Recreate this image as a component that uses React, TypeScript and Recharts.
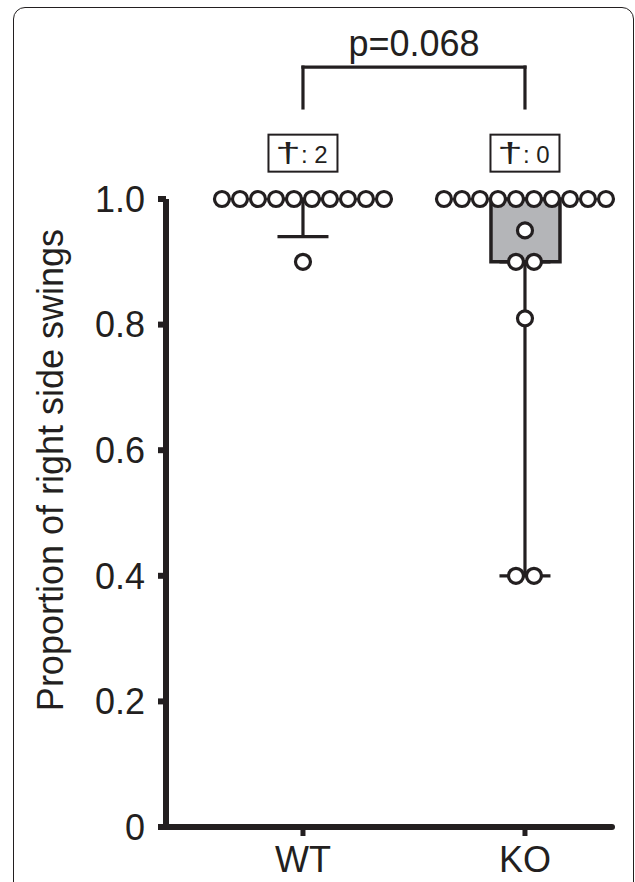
import React from "react";
import {
  ComposedChart,
  XAxis,
  YAxis,
  Bar,
  Scatter,
  ErrorBar,
  ReferenceLine,
  ReferenceDot,
} from "recharts";

const INK = "#231f20";
const BOX_GREY = "#b4b5b8";
const FONT = "'Liberation Sans', Arial, Helvetica, sans-serif";

// groups on the x axis (numeric positions so the swarm can sit on them)
const groups = ["WT", "KO"];
const groupX = [1, 2];

// individual animals: proportion of right side swings
const wtValues = [1, 1, 1, 1, 1, 1, 1, 1, 1, 1, 0.9];
const koValues = [1, 1, 1, 1, 1, 1, 1, 1, 1, 1, 0.95, 0.9, 0.9, 0.81, 0.4, 0.4];

// box + whisker summary per group
const boxQ1 = [1.0, 0.9];
const boxQ3 = [1.0, 1.0];
const whiskerLow = [0.94, 0.4];

// deaths per group (cross tags) and the comparison
const deaths = [2, 0];
const pValue = "p=0.068";
const bracketY = 1.21;
const bracketLegY = 1.145;
const tagY = 1.073;

const yTicks = [0, 0.2, 0.4, 0.6, 0.8, 1.0];

const STEP = 18;

function swarm(values: number[], x: number) {
  const counts = new Map<number, number>();
  values.forEach((v) => counts.set(v, (counts.get(v) || 0) + 1));
  return [...counts].map(([y, n]) => ({ x, y, n }));
}

const swarmData = [...swarm(wtValues, groupX[0]), ...swarm(koValues, groupX[1])];

const boxData = groups.map((g, i) => ({
  name: g,
  x: groupX[i],
  box: [boxQ1[i], boxQ3[i]],
}));

const whiskerData = groups.map((g, i) => ({
  name: g,
  x: groupX[i],
  y: boxQ1[i],
  err: [boxQ1[i] - whiskerLow[i], 0],
}));

function SwarmRow(props: any) {
  const { cx, cy } = props;
  const n = props.payload?.n ?? props.n ?? 1;
  return (
    <g>
      {Array.from({ length: n }, (_, i) => (
        <circle
          key={i}
          cx={cx + (i - (n - 1) / 2) * STEP}
          cy={cy}
          r={7.5}
          fill="#fff"
          stroke={INK}
          strokeWidth={3.2}
        />
      ))}
    </g>
  );
}

function DeathTag({ cx, cy, n }: { cx: number; cy: number; n: number }) {
  return (
    <g>
      <rect x={cx - 34.5} y={cy - 18.5} width={69} height={37} fill="#fff" stroke={INK} strokeWidth={2} />
      <text
        transform={`translate(${cx - 15}, ${cy + 9}) scale(1.7, 1)`}
        textAnchor="middle"
        fontSize={27}
        fontFamily={FONT}
        fill={INK}
      >
        †
      </text>
      <text x={cx - 2} y={cy + 9.5} textAnchor="start" fontSize={24} fontFamily={FONT} fill={INK}>
        {`: ${n}`}
      </text>
    </g>
  );
}

const fmtY = (v: number) => (v === 0 ? "0" : v.toFixed(1));

export default function App() {
  return (
    <div style={{ position: "absolute", left: 0, top: 0, width: 635, height: 882, overflow: "hidden", background: "#fff" }}>
      <div
        style={{
          position: "absolute",
          left: 13,
          top: 7,
          width: 619,
          height: 920,
          border: `1.5px solid ${INK}`,
          borderRadius: 12,
        }}
      />
      <div style={{ position: "absolute", left: 0, top: 0 }}>
        <ComposedChart width={635} height={882} data={boxData} margin={{ top: 199, right: 23, bottom: 0, left: 0 }}>
          <XAxis
            type="number"
            dataKey="x"
            domain={[0.383, 2.392]}
            ticks={groupX}
            tickFormatter={(v: number) => groups[groupX.indexOf(v)] ?? ""}
            height={55}
            axisLine={{ stroke: INK, strokeWidth: 6, strokeLinecap: "round" }}
            tickLine={{ stroke: INK, strokeWidth: 5 }}
            tickSize={9}
            tickMargin={10}
            tick={{ fill: INK, fontSize: 36, fontFamily: FONT }}
          />
          <YAxis
            type="number"
            domain={[0, 1]}
            ticks={yTicks}
            tickFormatter={fmtY}
            width={166}
            axisLine={{ stroke: INK, strokeWidth: 6 }}
            tickLine={{ stroke: INK, strokeWidth: 6 }}
            tickSize={8}
            tickMargin={13}
            tick={{ fill: INK, fontSize: 36, fontFamily: FONT }}
            label={{
              content: ({ viewBox }: any) => {
                const cx = 50;
                const cy = viewBox.y + viewBox.height / 2 - 43;
                return (
                  <text
                    x={cx}
                    y={cy}
                    transform={`rotate(-90, ${cx}, ${cy})`}
                    textAnchor="middle"
                    dominantBaseline="central"
                    fontSize={36}
                    fontFamily={FONT}
                    fill={INK}
                  >
                    Proportion of right side swings
                  </text>
                );
              },
            }}
          />
          <Bar dataKey="box" barSize={69} fill={BOX_GREY} stroke={INK} strokeWidth={3.5} isAnimationActive={false} />
          <Scatter data={whiskerData} dataKey="y" shape={() => <g />} isAnimationActive={false}>
            <ErrorBar dataKey="err" direction="y" width={25.5} stroke={INK} strokeWidth={3.2} />
          </Scatter>
          <Scatter data={swarmData} dataKey="y" shape={SwarmRow} isAnimationActive={false} />

          <ReferenceLine
            segment={[{ x: groupX[0], y: bracketLegY }, { x: groupX[0], y: bracketY }]}
            stroke={INK}
            strokeWidth={3.2}
            strokeLinecap="square"
            ifOverflow="visible"
          />
          <ReferenceLine
            segment={[{ x: groupX[0], y: bracketY }, { x: groupX[1], y: bracketY }]}
            stroke={INK}
            strokeWidth={3.2}
            strokeLinecap="square"
            ifOverflow="visible"
            label={{ value: pValue, position: "top", offset: 11, fill: INK, fontSize: 36, fontFamily: FONT }}
          />
          <ReferenceLine
            segment={[{ x: groupX[1], y: bracketY }, { x: groupX[1], y: bracketLegY }]}
            stroke={INK}
            strokeWidth={3.2}
            strokeLinecap="square"
            ifOverflow="visible"
          />
          {groups.map((g, i) => (
            <ReferenceDot
              key={g}
              x={groupX[i]}
              y={tagY}
              r={0}
              ifOverflow="visible"
              shape={(p: any) => <DeathTag cx={p.cx} cy={p.cy} n={deaths[i]} />}
            />
          ))}
        </ComposedChart>
      </div>
    </div>
  );
}
